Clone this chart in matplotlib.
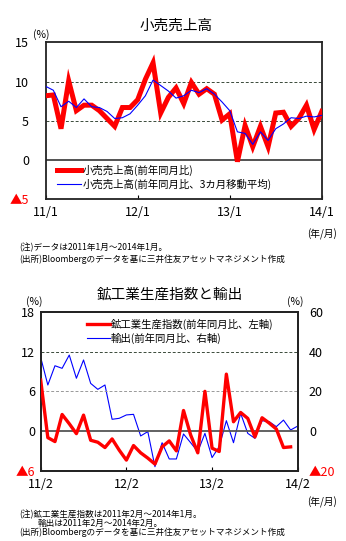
import matplotlib
matplotlib.use("Agg")
import matplotlib.pyplot as plt

plt.rcParams['font.family'] = ['Noto Sans CJK JP', 'DejaVu Sans']

# ---- retail sales (11/1 .. 14/1), % yoy ----
retail_yoy = [8.2, 8.3, 4.0, 10.1, 6.3, 7.0, 7.0, 6.3, 5.3, 4.3, 6.7, 6.7,
              7.7, 10.3, 12.4, 6.0, 8.0, 9.2, 7.2, 9.9, 8.4, 9.1, 8.4, 5.1,
              5.9, -0.2, 4.4, 1.7, 4.3, 1.7, 6.0, 6.1, 4.3, 5.3, 7.0, 3.9, 6.2]
retail_ma3 = [9.4, 8.9, 6.8, 7.5, 6.7, 7.8, 6.8, 6.7, 6.2, 5.3, 5.4, 5.9,
              7.0, 8.2, 10.2, 9.5, 8.8, 7.9, 8.2, 8.9, 8.6, 9.1, 8.4, 7.4,
              6.3, 3.6, 3.4, 2.0, 3.6, 2.5, 4.0, 4.6, 5.4, 5.3, 5.6, 5.5, 5.7]
retail_xlabels = ['11/1', '12/1', '13/1', '14/1']

# ---- industrial production (11/2 .. 14/1) and exports (11/2 .. 14/2) ----
ip_yoy = [7.7, -1.0, -1.6, 2.5, 1.1, -0.4, 2.4, -1.4, -1.7, -2.5, -1.2, -2.9,
          -4.4, -2.2, -3.3, -4.1, -5.0, -2.4, -1.5, -3.0, 3.1, -0.6, -3.3, 6.0,
          -2.6, -3.1, 8.6, 1.4, 2.8, 1.9, -0.9, 2.0, 1.2, 0.3, -2.5, -2.4]
export_yoy = [37.1, 23.2, 32.9, 31.6, 38.3, 26.6, 35.8, 24.0, 21.0, 23.2, 5.9, 6.4,
              8.1, 8.4, -2.5, -0.3, -18.0, -5.9, -14.1, -14.1, -1.5, -5.9, -10.4, -1.2,
              -13.4, -7.9, 5.2, -5.9, 8.9, -1.2, -3.7, 5.2, 4.7, 2.2, 5.5, 0.5, 2.5]
ip_xlabels = ['11/2', '12/2', '13/2', '14/2']

RED = '#ff0000'
BLUE = '#0000ff'

fig = plt.figure(figsize=(3.46, 5.41), dpi=100)


def style_axes(ax):
    for sp in ax.spines.values():
        sp.set_linewidth(1.3)
        sp.set_color('#222222')
    ax.tick_params(axis='x', direction='in', length=3, width=0.8, labelsize=9, pad=5)
    ax.tick_params(axis='y', length=0, labelsize=9)


# ===== top chart =====
ax1 = fig.add_axes([0.132, 0.6316, 0.798, 0.290])
x1 = list(range(len(retail_yoy)))
ax1.axhline(0, color='#444444', lw=1.3, zorder=1)
for yv in (5, 10):
    ax1.axhline(yv, color='#3a4a3a', lw=0.7, ls=(0, (3, 2)), zorder=1)
ax1.plot(x1, retail_yoy, color=RED, lw=3.6, solid_joinstyle='miter',
         label='小売売上高(前年同月比)', zorder=3)
ax1.plot(x1, retail_ma3, color=BLUE, lw=0.8, label='小売売上高(前年同月比、3カ月移動平均)', zorder=4)
ax1.set_xlim(0, 36)
ax1.set_ylim(-5, 15)
ax1.set_xticks([0, 12, 24, 36])
ax1.set_xticklabels(retail_xlabels)
ax1.set_yticks([-5, 0, 5, 10, 15])
ax1.set_yticklabels(['▲5', '0', '5', '10', '15'])
ax1.get_yticklabels()[0].set_color(RED)
style_axes(ax1)
ax1.tick_params(axis='y', pad=12)
ax1.legend(loc='center left', bbox_to_anchor=(0.04, 0.14), frameon=False,
           fontsize=7.5, handlelength=2.3, handletextpad=0.2, borderpad=0,
           borderaxespad=0, labelspacing=0.25)
fig.text(0.51, 0.953, '小売売上高', ha='center', va='center', fontsize=10.5)
fig.text(0.095, 0.936, '(%)', ha='left', va='center', fontsize=7.5)
fig.text(0.975, 0.566, '(年/月)', ha='right', va='center', fontsize=7)
fig.text(0.055, 0.542, '(注)データは2011年1月～2014年1月。', ha='left', va='center', fontsize=6.2)
fig.text(0.055, 0.520, '(出所)Bloombergのデータを基に三井住友アセットマネジメント作成',
         ha='left', va='center', fontsize=6.2)

# ===== bottom chart =====
ax2 = fig.add_axes([0.1176, 0.130, 0.743, 0.2933])
x2 = list(range(len(ip_yoy)))
x3 = list(range(len(export_yoy)))
ax2.axhline(0, color='#555555', lw=1.3, zorder=1)
ax2.axhline(12, color='#3a4a3a', lw=0.7, ls=(0, (3, 2)), zorder=1)
ax2.axhline(6, color='#999999', lw=0.7, ls=(0, (3, 2)), zorder=1)
ax3 = ax2.twinx()
ax3.plot(x3, export_yoy, color=BLUE, lw=0.8, zorder=2)
ax3.set_ylim(-20, 60)
ax3.set_yticks([-20, 0, 20, 40, 60])
ax3.set_yticklabels(['▲20', '0', '20', '40', '60'])
ax3.get_yticklabels()[0].set_color(RED)
ax3.tick_params(axis='y', length=0, labelsize=9, pad=8)
ax2.set_zorder(ax3.get_zorder() + 1)
ax2.patch.set_visible(False)
ax2.plot(x2, ip_yoy, color=RED, lw=2.4, zorder=3)
ax2.set_xlim(0, 36)
ax2.set_ylim(-6, 18)
ax2.set_xticks([0, 12, 24, 36])
ax2.set_xticklabels(ip_xlabels)
ax2.set_yticks([-6, 0, 6, 12, 18])
ax2.set_yticklabels(['▲6', '0', '6', '12', '18'])
ax2.get_yticklabels()[0].set_color(RED)
style_axes(ax2)
ax2.tick_params(axis='y', pad=4)
for sp in ax3.spines.values():
    sp.set_linewidth(1.3)
    sp.set_color('#222222')
h_red = plt.Line2D([], [], color=RED, lw=2.4)
h_blue = plt.Line2D([], [], color=BLUE, lw=0.8)
ax2.legend([h_red, h_blue], ['鉱工業生産指数(前年同月比、左軸)', '輸出(前年同月比、右軸)'],
           loc='center left', bbox_to_anchor=(0.18, 0.877), frameon=False,
           fontsize=7.5, handlelength=2.2, handletextpad=0.1, borderpad=0,
           borderaxespad=0, labelspacing=0.25)
fig.text(0.49, 0.455, '鉱工業生産指数と輸出', ha='center', va='center', fontsize=10.5)
fig.text(0.075, 0.442, '(%)', ha='left', va='center', fontsize=7.5)
fig.text(0.83, 0.442, '(%)', ha='left', va='center', fontsize=7.5)
fig.text(0.975, 0.072, '(年/月)', ha='right', va='center', fontsize=7)
fig.text(0.055, 0.048, '(注)鉱工業生産指数は2011年2月～2014年1月。', ha='left', va='center', fontsize=6.2)
fig.text(0.11, 0.033, '輸出は2011年2月～2014年2月。', ha='left', va='center', fontsize=6.2)
fig.text(0.055, 0.017, '(出所)Bloombergのデータを基に三井住友アセットマネジメント作成',
         ha='left', va='center', fontsize=6.2)

fig.savefig('out.png', dpi=100)
